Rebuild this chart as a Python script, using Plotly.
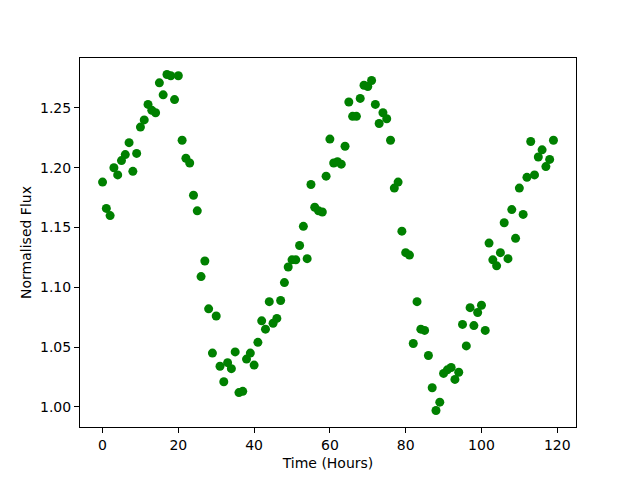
import plotly.graph_objects as go

time_hours = list(range(120))
flux = [
    1.188, 1.166, 1.160, 1.200, 1.194, 1.206, 1.211, 1.221, 1.197, 1.212,
    1.234, 1.240, 1.253, 1.248, 1.246, 1.271, 1.261, 1.278, 1.277, 1.257,
    1.277, 1.223, 1.208, 1.204, 1.177, 1.164, 1.109, 1.122, 1.082, 1.045,
    1.076, 1.034, 1.021, 1.037, 1.032, 1.046, 1.012, 1.013, 1.040, 1.045,
    1.035, 1.054, 1.072, 1.065, 1.088, 1.070, 1.074, 1.089, 1.104, 1.117,
    1.123, 1.123, 1.135, 1.151, 1.124, 1.186, 1.167, 1.164, 1.163, 1.193,
    1.224, 1.204, 1.205, 1.203, 1.218, 1.255, 1.243, 1.243, 1.258, 1.269,
    1.268, 1.273, 1.253, 1.237, 1.246, 1.241, 1.223, 1.183, 1.188, 1.147,
    1.129, 1.127, 1.053, 1.088, 1.065, 1.064, 1.043, 1.016, 0.997, 1.004,
    1.028, 1.031, 1.033, 1.023, 1.029, 1.069, 1.051, 1.083, 1.068, 1.079,
    1.085, 1.064, 1.137, 1.123, 1.118, 1.129, 1.154, 1.124, 1.165, 1.141,
    1.183, 1.161, 1.192, 1.222, 1.194, 1.209, 1.215, 1.201, 1.207, 1.223,
]
x_ticks = [0, 20, 40, 60, 80, 100, 120]
y_ticks = [1.00, 1.05, 1.10, 1.15, 1.20, 1.25]

fig = go.Figure(go.Scatter(
    x=time_hours, y=flux, mode="markers",
    marker=dict(color="#008000", size=9, line=dict(width=0)),
))

font = dict(family="DejaVu Sans", size=14, color="black")
axis_common = dict(
    showline=True, linecolor="black", linewidth=1, mirror=True,
    ticks="outside", ticklen=5, tickwidth=1, tickcolor="black",
    showgrid=False, zeroline=False, tickfont=font,
)
fig.update_layout(
    width=640, height=480, autosize=False,
    margin=dict(l=72, r=72, t=50, b=61),
    plot_bgcolor="white", paper_bgcolor="white",
    showlegend=False, font=font,
    xaxis=dict(range=[-5.95, 124.95], tickvals=x_ticks,
               title=dict(text="Time (Hours)", font=font, standoff=6), **axis_common),
    yaxis=dict(range=[0.9832, 1.2918], tickvals=y_ticks, tickformat=".2f",
               title=dict(text="Normalised Flux", font=font, standoff=5), **axis_common),
)
fig.write_html("out.html")
